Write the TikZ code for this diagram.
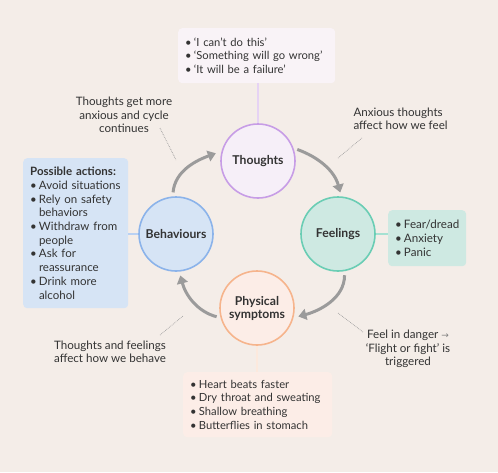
\documentclass[tikz,border=0pt]{standalone}
\usepackage{fontspec}
\setmainfont{Lato}
\newfontfamily\symbfont{DejaVu Sans}
\usetikzlibrary{arrows.meta}

\definecolor{paper}{HTML}{F4EDE8}
\definecolor{ink}{HTML}{333333}
\definecolor{arrowgray}{HTML}{9B9B9B}
\definecolor{purpleline}{HTML}{C79DE6}
\definecolor{purplefill}{HTML}{F6EFF8}
\definecolor{tealline}{HTML}{6ACDB4}
\definecolor{tealfill}{HTML}{CEE9E2}
\definecolor{blueline}{HTML}{8BB3EA}
\definecolor{bluefill}{HTML}{D6E4F5}
\definecolor{orangeline}{HTML}{F6B48C}
\definecolor{orangefill}{HTML}{FCEDE7}
\definecolor{topfill}{HTML}{F9F3F7}

\newcommand\bul{\makebox[8.8pt][l]{\textbullet}}
\newcommand\ind{\hspace*{8.8pt}}

\tikzset{
	bubble/.style={circle, minimum size=74pt, inner sep=0pt, line width=1.6pt, align=center, text=ink, font=\bfseries\fontsize{12.2}{13}\selectfont},
	notebox/.style={rounded corners=4pt, anchor=north west, inner xsep=7pt, inner ysep=0pt, align=left, text=ink, font=\fontsize{11.2}{13.6}\selectfont},
	remark/.style={align=center, text=ink, font=\fontsize{11.6}{13.5}\selectfont},
	cycle/.style={draw=arrowgray, line width=3pt, -{Triangle[length=8pt,width=11pt]}, shorten <=4pt, shorten >=4pt},
	hint/.style={draw=gray!75, densely dotted, line width=0.7pt},
	stem/.style={line width=1.4pt}
}

\begin{document}
\begin{tikzpicture}[x=1pt,y=1pt]
		\fill[paper] (0,0) rectangle (498,-472);
		\useasboundingbox (0,0) rectangle (498,-472);
		
		% the four stages
		\node[bubble, draw=purpleline, fill=purplefill] (thoughts) at (258,-161) {Thoughts};
		\node[bubble, draw=tealline, fill=tealfill] (feelings) at (338,-234) {Feelings};
		\node[bubble, draw=blueline, fill=bluefill] (behaviours) at (176,-234) {Behaviours};
		\node[bubble, draw=orangeline, fill=orangefill] (physical) at (257,-308) {Physical\\symptoms};
		
		% boxes
		\node[notebox, fill=topfill, minimum width=157pt, minimum height=55pt, text width=143pt, xshift=2pt] (thoughtsbox) at (176,-28) {\bul‘I can’t do this’\\\bul‘Something will go wrong’\\\bul‘It will be a failure’};
		\node[notebox, fill=tealfill, minimum width=78pt, minimum height=56pt, text width=64pt, font=\fontsize{11.6}{13.8}\selectfont] (feelingsbox) at (388,-210) {\bul Fear/dread\\\bul Anxiety\\\bul Panic};
		\node[notebox, fill=bluefill, minimum width=105pt, minimum height=150pt, text width=91pt, font=\fontsize{11.5}{13.7}\selectfont] (behaviourbox) at (23,-158) {\textbf{Possible actions:}\\\bul Avoid situations\\\bul Rely on safety\\\ind behaviors\\\bul Withdraw from\\\ind people\\\bul Ask for\\\ind reassurance\\\bul Drink more\\\ind alcohol};
		\node[notebox, fill=orangefill, minimum width=149pt, minimum height=65pt, text width=135pt] (physicalbox) at (183,-372) {\bul Heart beats faster\\\bul Dry throat and sweating\\\bul Shallow breathing\\\bul Butterflies in stomach};
		
		% box stems
		\draw[stem, purpleline!45] (thoughts.north) -- (thoughts.north |- thoughtsbox.south);
		\draw[stem, tealline!60] (feelings.east) -- (feelings.east -| feelingsbox.west);
		\draw[stem, blueline!60] (behaviours.west) -- (behaviours.west -| behaviourbox.east);
		\draw[stem, orangeline!30] (physical.south) -- (physical.south |- physicalbox.north);
		
		% cycle arrows
		\draw[cycle] (thoughts.20) to[out=-20,in=105] (feelings.85);
		\draw[cycle, shorten >=5pt] (feelings.-80) to[out=-90,in=15] (physical.-15);
		\draw[cycle] (physical.195) to[out=165,in=-75] (behaviours.-85);
		\draw[cycle, shorten >=6pt] (behaviours.95) to[out=85,in=200] (thoughts.165);
		
		% remarks
		\node[remark] (worse) at (124,-115) {Thoughts get more\\anxious and cycle\\continues};
		\node[remark, align=left, anchor=west] (affectfeel) at (350,-119) {Anxious thoughts\\affect how we feel};
		\node[remark] (affectact) at (110,-352) {Thoughts and feelings\\affect how we behave};
		\node[remark] (danger) at (408,-349) {Feel in danger {\symbfont\color{gray}\fontsize{9}{8}\selectfont →}\\‘Flight or fight’ is\\triggered};
		
		\coordinate (worsetip) at (176,-160);
		\coordinate (worseend) at (160,-128);
		\coordinate (feeltip) at (338,-158);
		\coordinate (feelend) at (362,-138);
		\coordinate (acttip) at (183,-316);
		\coordinate (actend) at (160,-335);
		\coordinate (dangertip) at (338,-313);
		\coordinate (dangerend) at (363,-332);
		\draw[hint] (worseend) -- (worsetip);
		\draw[hint] (feelend) -- (feeltip);
		\draw[hint] (actend) -- (acttip);
		\draw[hint] (dangerend) -- (dangertip);
		
\end{tikzpicture}
\end{document}
